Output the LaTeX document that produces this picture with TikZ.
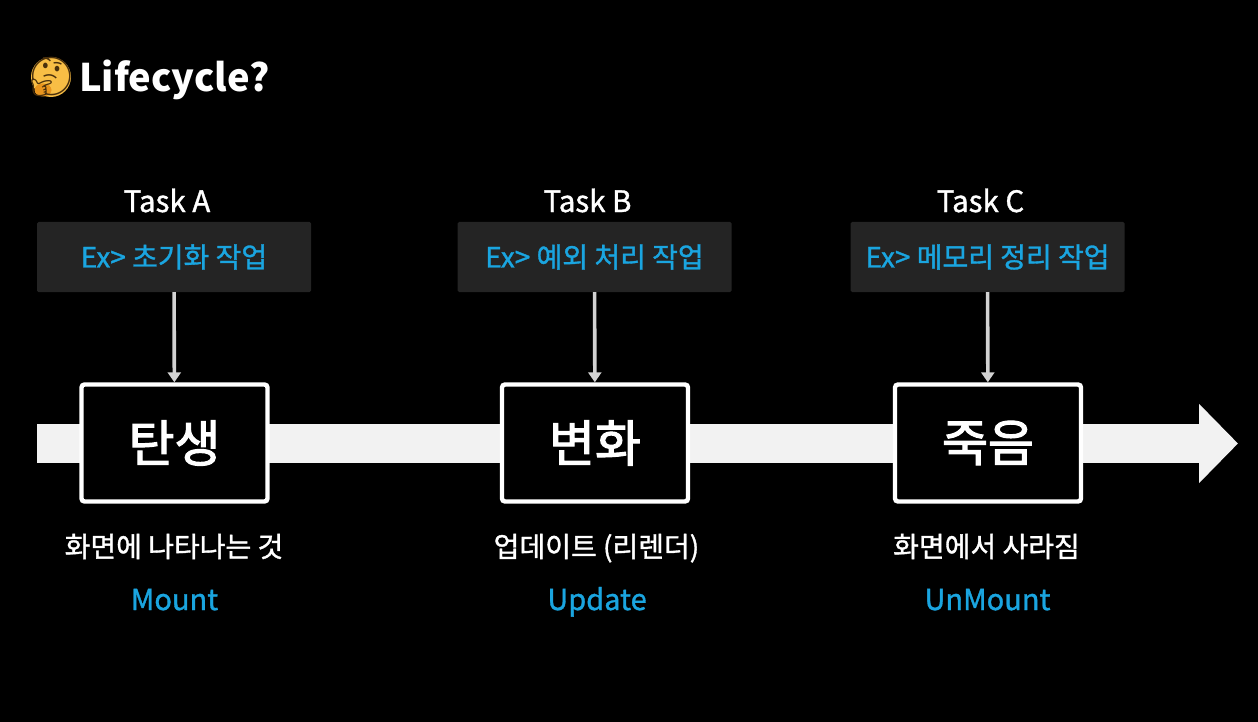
\documentclass[tikz,border=0pt]{standalone}
\usepackage{fontspec}
\setmainfont{Noto Sans CJK KR}
\newfontfamily\emojifont{Noto Emoji}
\newcommand{\medweight}{\addfontfeature{FakeBold=1.2}}
\usepackage{xcolor}
\usetikzlibrary{calc,positioning,arrows.meta,shapes.geometric}
\definecolor{skyblue}{HTML}{1AA5E0}
\definecolor{panelgrey}{HTML}{242424}
\definecolor{flowgrey}{HTML}{F2F2F2}
\definecolor{pointergrey}{HTML}{D2D2D2}
\definecolor{facegold}{HTML}{F8BE45}
\definecolor{handorange}{HTML}{E8951E}
\definecolor{facebrown}{HTML}{4A300C}
\tikzset{
  flow/.style={line width=39pt,flowgrey,-{Triangle[length=39pt,width=77pt]}},
  pointer/.style={line width=3.6pt,pointergrey,-{Triangle[length=10pt,width=13pt]}},
  stage/.style={draw=white,fill=black,line width=4.4pt,rounded corners=3pt,minimum width=186pt,minimum height=117pt,
    text=white,inner sep=0pt,font=\fontsize{50}{50}\selectfont\addfontfeature{FakeBold=2.2}},
  panel/.style={fill=panelgrey,rounded corners=1.5pt,minimum width=274pt,minimum height=70pt,inner sep=0pt,
    text=skyblue,font=\fontsize{28}{28}\selectfont\medweight},
  task/.style={anchor=base,text=white,inner sep=0pt,font=\fontsize{29.5}{29.5}\selectfont\medweight},
  caption/.style={anchor=base,text=white,inner sep=0pt,font=\fontsize{28}{28}\selectfont\medweight},
  phase/.style={anchor=base,text=skyblue,inner sep=0pt,font=\fontsize{29}{29}\selectfont\medweight},
}

\begin{document}
\begin{tikzpicture}[x=1pt,y=-1pt]
  \fill[black] (0,0) rectangle (1258,722);
  \useasboundingbox (0,0) rectangle (1258,722);

  % title
  \node[circle,fill=facegold,minimum size=40pt,inner sep=0pt] (face) at (51,77) {};
  \node[ellipse,fill=handorange,minimum width=17pt,minimum height=13pt,inner sep=0pt] (hand) at (43,90) {};
  \node[text=facebrown,inner sep=0pt,font=\emojifont\fontsize{38}{38}\selectfont] (faceglyph) at (51,77) {🤔};
  \node[anchor=west,text=white,inner sep=0pt,font=\bfseries\fontsize{38}{38}\selectfont] (title) at (79,80) {Lifecycle?};

  % time line
  \coordinate (flowstart) at (37,443.5);
  \coordinate (flowend) at (1238,443.5);
  \draw[flow] (flowstart) -- (flowend);

  \node[stage] (birth) at (174.5,443) {탄생};
  \node[stage] (change) at (595,443) {변화};
  \node[stage] (death) at (988,443) {죽음};

  \node[panel] (panela) at (174,257) {Ex> 초기화 작업};
  \node[panel] (panelb) at (594.5,257) {Ex> 예외 처리 작업};
  \node[panel] (panelc) at (987.5,257) {Ex> 메모리 정리 작업};

  \node[task] (taska) at (167,212) {Task A};
  \node[task] (taskb) at (587.5,212) {Task B};
  \node[task] (taskc) at (980.5,212) {Task C};

  \draw[pointer] (panela) -- (birth);
  \draw[pointer] (panelb) -- (change);
  \draw[pointer] (panelc) -- (death);

  \node[caption] (capa) at (174,557) {화면에 나타나는 것};
  \node[caption] (capb) at (596.5,557) {업데이트 (리렌더)};
  \node[caption] (capc) at (986.5,557) {화면에서 사라짐};

  \node[phase] (mount) at (174.5,610) {Mount};
  \node[phase] (update) at (597,610) {Update};
  \node[phase] (unmount) at (987.5,610) {UnMount};
\end{tikzpicture}
\end{document}
